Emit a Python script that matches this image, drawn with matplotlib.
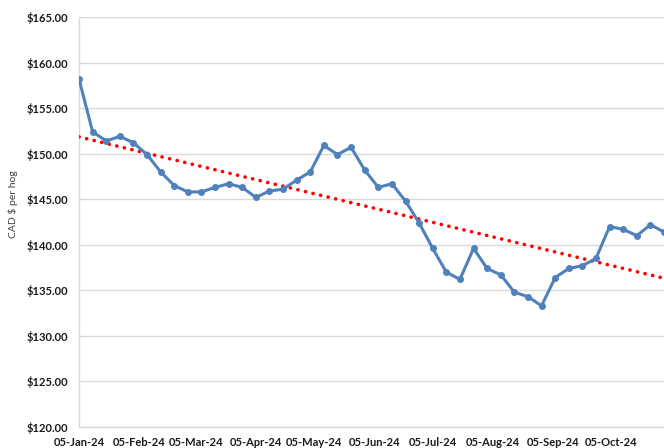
import matplotlib
matplotlib.use("Agg")
import matplotlib.pyplot as plt
import matplotlib.dates as mdates
import numpy as np
import pandas as pd

# ---- data ----
start_date = "2024-01-05"
n_weeks = 44
prices = [158.2, 152.4, 151.4, 151.9, 151.2, 149.9, 148.0, 146.5, 145.8, 145.8,
          146.3, 146.7, 146.3, 145.2, 145.9, 146.1, 147.1, 148.0, 150.9, 149.9,
          150.7, 148.2, 146.3, 146.7, 144.8, 142.4, 139.6, 137.0, 136.2, 139.6,
          137.4, 136.7, 134.8, 134.3, 133.3, 136.4, 137.4, 137.7, 138.5, 142.0,
          141.7, 141.0, 142.2, 141.4]
tick_dates = ["2024-01-05", "2024-02-05", "2024-03-05", "2024-04-05", "2024-05-05",
              "2024-06-05", "2024-07-05", "2024-08-05", "2024-09-05", "2024-10-05"]
y_ticks = [120, 125, 130, 135, 140, 145, 150, 155, 160, 165]
y_label = "CAD $ per hog"

dates = pd.date_range(start_date, periods=n_weeks, freq="7D")
prices = np.array(prices)

plt.rcParams['font.family'] = ['Lato', 'DejaVu Sans']

fig = plt.figure(figsize=(6.64, 4.48), dpi=100)
W, H = 664, 448
left, right, top, bottom = 79, 664, 17, 427
ax = fig.add_axes([left / W, 1 - bottom / H, (right - left) / W, (bottom - top) / H])

xnum = mdates.date2num(dates)
# linear trend line
coef = np.polyfit(xnum, prices, 1)
ax.plot(dates, np.polyval(coef, xnum), color="#ff0000", lw=2.6,
        linestyle=(0, (0.05, 2.1)), dash_capstyle="round", zorder=3)
ax.plot(dates, prices, color="#4f81bd", lw=2.2, marker="o", markersize=4,
        zorder=4, clip_on=True)

ax.set_ylim(120, 165)
ax.set_yticks(y_ticks)
ax.set_yticklabels([f"${v:.2f}" for v in y_ticks])
ax.set_xlim(dates[0], dates[-1])
td = pd.to_datetime(tick_dates)
ax.set_xticks(td)
ax.set_xticklabels([d.strftime("%d-%b-%y") for d in td])

ax.grid(axis="y", color="#d9d9d9", lw=1)
ax.set_axisbelow(True)
for s in ["top", "right"]:
    ax.spines[s].set_visible(False)
for s in ["left", "bottom"]:
    ax.spines[s].set_color("#d9d9d9")
    ax.spines[s].set_linewidth(1)
ax.tick_params(axis="both", length=0, labelsize=8)
ax.tick_params(axis="y", pad=8)
ax.tick_params(axis="x", pad=7)
for lab in ax.get_xticklabels() + ax.get_yticklabels():
    lab.set_fontweight("bold")
    lab.set_color("#1a1a1a")

fig.text(13 / W, 1 - 204 / H, y_label, rotation=90, ha="center", va="center",
         fontsize=7.5, color="#404040")

fig.savefig("out.png", dpi=100)
